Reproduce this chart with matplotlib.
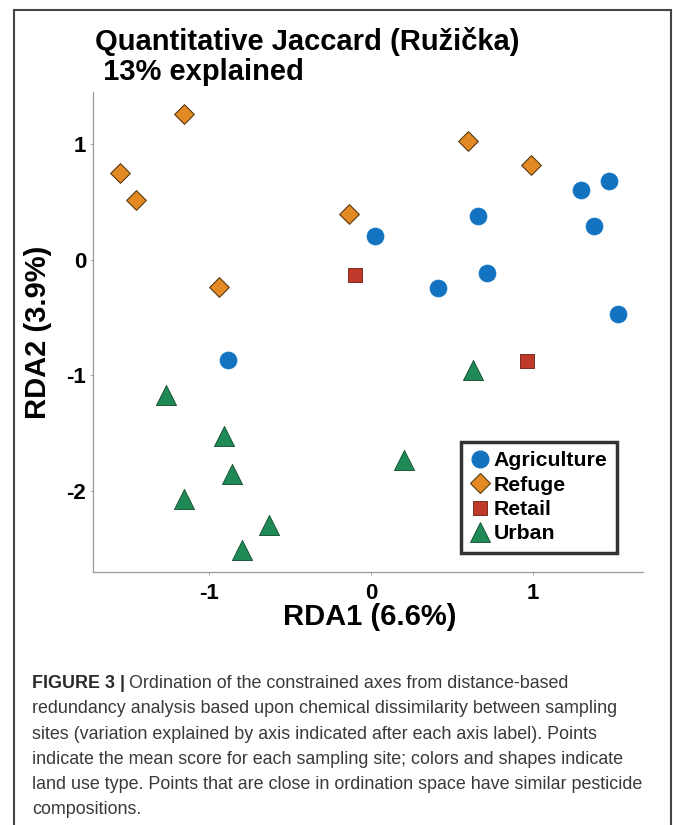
import matplotlib
matplotlib.use("Agg")
import matplotlib.pyplot as plt
from matplotlib import font_manager
from matplotlib.patches import Rectangle
from matplotlib.lines import Line2D

# land use groups and their site scores (RDA1, RDA2)
groups = ["Agriculture", "Refuge", "Retail", "Urban"]

agri_x = [0.025, 0.661, 0.414, 0.719, 1.301, 1.476, 1.383, 1.532, -0.883]
agri_y = [0.203, 0.377, -0.248, -0.117, 0.597, 0.674, 0.291, -0.468, -0.868]

refuge_x = [-1.16, -1.553, -1.452, -0.942, -0.139, 0.599, 0.99]
refuge_y = [1.255, 0.749, 0.512, -0.237, 0.392, 1.02, 0.817]

retail_x = [-0.097, 0.966]
retail_y = [-0.137, -0.874]

urban_x = [0.634, -1.271, -0.910, -0.862, 0.206, -1.155, -0.631, -0.796]
urban_y = [-0.954, -1.165, -1.525, -1.853, -1.731, -2.068, -2.293, -2.507]

xticks = [-1, 0, 1]
yticks = [1, 0, -1, -2]

names = {f.name for f in font_manager.fontManager.ttflist}
narrow = "Liberation Sans Narrow" if "Liberation Sans Narrow" in names else "Liberation Sans"
plt.rcParams["font.family"] = [narrow, "DejaVu Sans"]

W, H = 673, 825
fig = plt.figure(figsize=(W / 100, H / 100), dpi=100)
fig.patch.set_facecolor("white")

# axes box in pixels: left 93, right 643, top 92, bottom 572
ax = fig.add_axes([93 / W, (H - 572) / H, 550 / W, 480 / H])

styles = {
    "Agriculture": dict(marker="o", color="#1473c0", s=150, ec="#1473c0", lw=0.5),
    "Refuge": dict(marker="D", color="#e38a25", s=100, ec="#5a3a10", lw=0.8),
    "Retail": dict(marker="s", color="#bf3a2a", s=90, ec="#6a1a10", lw=0.6),
    "Urban": dict(marker="^", color="#1f8a55", s=210, ec="#0f4a2a", lw=0.6),
}
data = {
    "Agriculture": (agri_x, agri_y),
    "Refuge": (refuge_x, refuge_y),
    "Retail": (retail_x, retail_y),
    "Urban": (urban_x, urban_y),
}

for g in groups:
    st = styles[g]
    xs, ys = data[g]
    ax.scatter(xs, ys, marker=st["marker"], s=st["s"], c=st["color"],
               edgecolors=st["ec"], linewidths=st["lw"], zorder=3)

ax.set_xlim(-1.721, 1.684)
ax.set_ylim(-2.694, 1.444)
ax.set_xticks(xticks)
ax.set_yticks(yticks)
ax.set_xticklabels([str(t) for t in xticks], fontsize=16, fontweight="bold")
ax.set_yticklabels([str(t) for t in yticks], fontsize=16, fontweight="bold")
ax.tick_params(axis="x", length=2, width=0.6, color="#999999", pad=6)
ax.tick_params(axis="y", length=2, width=0.6, color="#999999", pad=3)
for sp in ["top", "right"]:
    ax.spines[sp].set_visible(False)
for sp in ["left", "bottom"]:
    ax.spines[sp].set_color("#999999")
    ax.spines[sp].set_linewidth(0.9)

# legend
handles = [
    Line2D([], [], ls="", marker="o", ms=12, mfc="#1473c0", mec="#1473c0"),
    Line2D([], [], ls="", marker="D", ms=10, mfc="#e38a25", mec="#5a3a10", mew=0.8),
    Line2D([], [], ls="", marker="s", ms=10, mfc="#bf3a2a", mec="#6a1a10", mew=0.6),
    Line2D([], [], ls="", marker="^", ms=15, mfc="#1f8a55", mec="#0f4a2a", mew=0.6),
]
leg = ax.legend(handles, groups, loc="lower right",
                bbox_to_anchor=((617 - 93) / 550, (572 - 553) / 480),
                borderaxespad=0, frameon=True, fancybox=False,
                prop=dict(family=[narrow, "DejaVu Sans"], weight="bold", size=15.3),
                handlelength=0.9, handletextpad=0.2, labelspacing=0.25,
                borderpad=0.45)
leg.get_frame().set_edgecolor("black")
leg.get_frame().set_linewidth(2.5)

# title and axis labels
fig.text(95 / W, 1 - 27 / H, "Quantitative Jaccard (Ružička)\n 13% explained",
         ha="left", va="top", fontsize=21, fontweight="bold", linespacing=1.08)
fig.text(370 / W, 1 - 617 / H, "RDA1 (6.6%)", ha="center", va="center",
         fontsize=21, fontweight="bold")
fig.text(38 / W, 1 - 332 / H, "RDA2 (3.9%)", ha="center", va="center",
         rotation=90, fontsize=21, fontweight="bold")

# outer frame of the figure panel
frame = Rectangle((14 / W, -0.05), (671 - 14) / W, 1.05 - 10 / H,
                  transform=fig.transFigure, fill=False, ec="#444444", lw=1.5,
                  clip_on=False)
fig.add_artist(frame)

# caption
cap_lines = [
    "Ordination of the constrained axes from distance-based",
    "redundancy analysis based upon chemical dissimilarity between sampling",
    "sites (variation explained by axis indicated after each axis label). Points",
    "indicate the mean score for each sampling site; colors and shapes indicate",
    "land use type. Points that are close in ordination space have similar pesticide",
    "compositions.",
]
cap_font = ["Liberation Sans", "DejaVu Sans"]
cap_size = 12.9
base0 = 688
step = 25.3
bold = fig.text(32 / W, 1 - base0 / H, "FIGURE 3 |", ha="left", va="baseline",
                fontsize=cap_size, fontweight="bold", family=cap_font, color="#2a2a2a")
fig.canvas.draw()
bb = bold.get_window_extent()
fig.text(bb.x1 / W + 4 / W, 1 - base0 / H, cap_lines[0], ha="left", va="baseline",
         fontsize=cap_size, family=cap_font, color="#3a3a3a")
for i, line in enumerate(cap_lines[1:], start=1):
    fig.text(32 / W, 1 - (base0 + i * step) / H, line, ha="left", va="baseline",
             fontsize=cap_size, family=cap_font, color="#3a3a3a")

fig.savefig("out.png", dpi=100, facecolor="white")
